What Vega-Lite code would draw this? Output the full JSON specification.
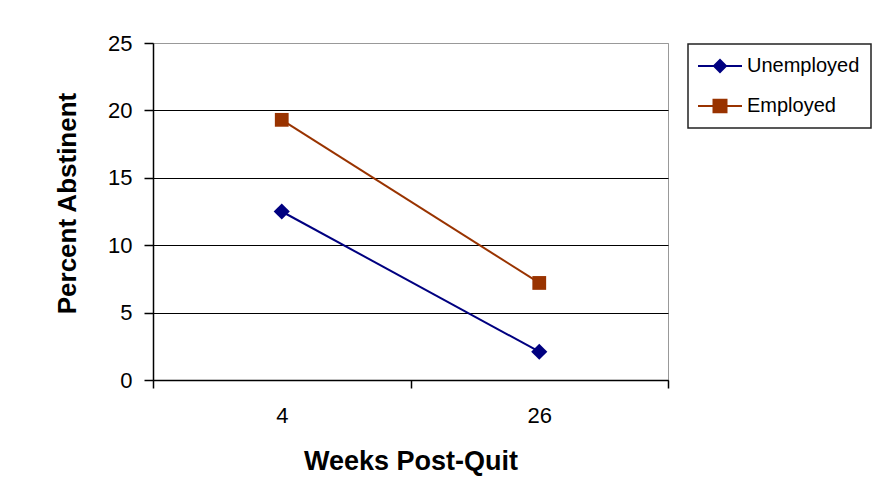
{
  "$schema": "https://vega.github.io/schema/vega-lite/v6.json",
  "width": 515,
  "height": 337,
  "autosize": {"type": "none"},
  "padding": {"left": 153, "top": 43, "right": 217, "bottom": 113},
  "background": "white",
  "config": {
    "font": "Liberation Sans",
    "view": {"stroke": "#999999", "strokeWidth": 1}
  },
  "data": {
    "values": [
      {"week": "4", "group": "Unemployed", "pct": 12.5},
      {"week": "26", "group": "Unemployed", "pct": 2.1},
      {"week": "4", "group": "Employed", "pct": 19.3},
      {"week": "26", "group": "Employed", "pct": 7.2}
    ]
  },
  "encoding": {
    "x": {
      "field": "week",
      "type": "ordinal",
      "sort": ["4", "26"],
      "scale": {"type": "band", "paddingInner": 0, "paddingOuter": 0},
      "axis": {
        "title": "Weeks Post-Quit",
        "titleFont": "Liberation Sans",
        "titleFontSize": 27,
        "titleFontWeight": "bold",
        "titleColor": "#000000",
        "titlePadding": 22,
        "labelAngle": 0,
        "labelFontSize": 22,
        "labelColor": "#000000",
        "labelPadding": 17,
        "tickBand": "extent",
        "tickSize": 8,
        "tickColor": "#000000",
        "tickWidth": 1.5,
        "domainColor": "#000000",
        "domainWidth": 1.5,
        "grid": false
      }
    },
    "y": {
      "field": "pct",
      "type": "quantitative",
      "scale": {"domain": [0, 25], "nice": false, "zero": true},
      "axis": {
        "title": "Percent Abstinent",
        "titleFont": "Liberation Sans",
        "titleFontSize": 26,
        "titleFontWeight": "bold",
        "titleColor": "#000000",
        "titlePadding": 27,
        "titleY": 160,
        "values": [0, 5, 10, 15, 20, 25],
        "labelFontSize": 22,
        "labelColor": "#000000",
        "labelPadding": 12,
        "tickSize": 9,
        "tickColor": "#000000",
        "tickWidth": 1.5,
        "domainColor": "#000000",
        "domainWidth": 1.5,
        "grid": true,
        "gridColor": {"condition": {"test": "datum.value == 25", "value": "#999999"}, "value": "#000000"},
        "gridWidth": 1
      }
    },
    "color": {
      "field": "group",
      "type": "nominal",
      "scale": {"domain": ["Unemployed", "Employed"], "range": ["#000080", "#993300"]},
      "legend": {
        "title": null,
        "orient": "none",
        "legendX": 535,
        "legendY": 1,
        "padding": 11,
        "strokeColor": "#222222",
        "fillColor": "white",
        "symbolSize": 400,
        "rowPadding": 19,
        "labelOffset": 26,
        "labelFontSize": 20,
        "labelColor": "#000000",
        "labelFont": "Liberation Sans",
        "encode": {
          "legend": {"update": {"strokeWidth": {"value": 1.5}}},
          "symbols": {
            "update": {
              "shape": {"signal": "datum.value === 'Unemployed' ? 'M-1.2,0H3.2M0.4,0L1.0,-0.6L1.6,0L1.0,0.6Z' : 'M-1.2,0H3.2M0.35,-0.62H1.65V0.62H0.35Z'"},
              "fill": {"signal": "datum.value === 'Unemployed' ? '#000080' : '#993300'"},
              "stroke": {"signal": "datum.value === 'Unemployed' ? '#000080' : '#993300'"},
              "strokeWidth": {"value": 2},
              "opacity": {"value": 1}
            }
          }
        }
      }
    }
  },
  "layer": [
    {
      "mark": {"type": "line", "strokeWidth": 2}
    },
    {
      "transform": [{"filter": "datum.group === 'Unemployed'"}],
      "mark": {"type": "point", "shape": "diamond", "filled": true, "opacity": 1, "size": 260}
    },
    {
      "transform": [{"filter": "datum.group === 'Employed'"}],
      "mark": {"type": "point", "shape": "square", "filled": true, "opacity": 1, "size": 190}
    }
  ]
}
